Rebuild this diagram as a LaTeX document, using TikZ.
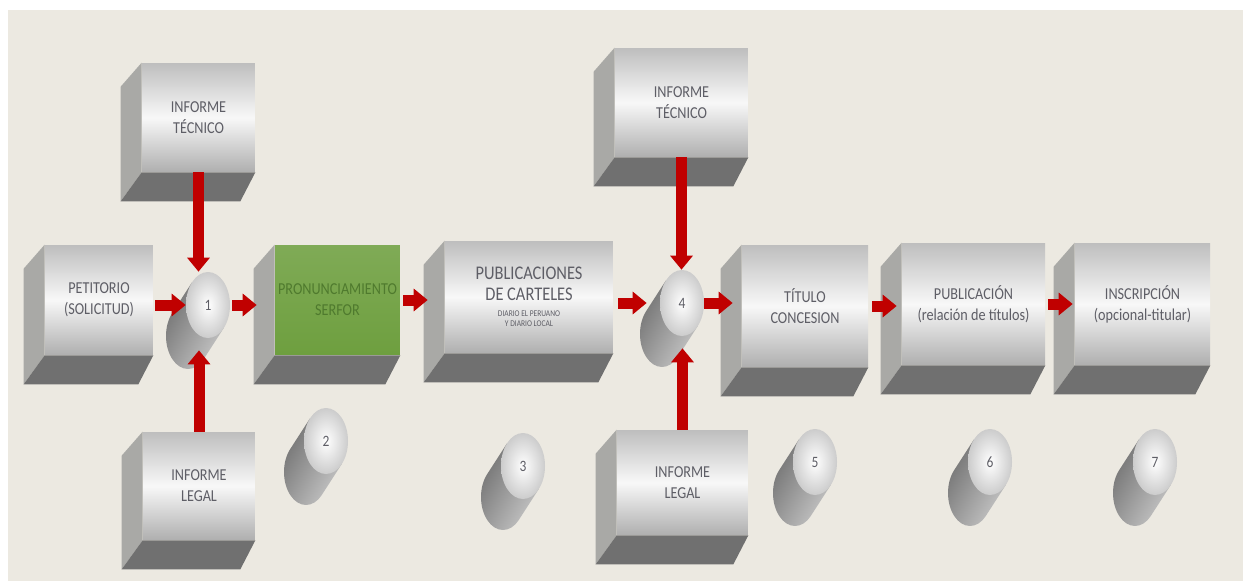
\documentclass[tikz,border=0pt]{standalone}
\usepackage{fontspec}
\setmainfont{Carlito}[FakeStretch=0.85]
\usetikzlibrary{arrows.meta,shapes.geometric,backgrounds}

\definecolor{fondo}{HTML}{ECE9E1}
\definecolor{caraclara}{HTML}{F8F8F8}
\definecolor{caragris}{HTML}{BEBEBE}
\definecolor{lateral}{HTML}{A9A9A6}
\definecolor{base}{HTML}{707070}
\definecolor{verde}{HTML}{6E9F3F}
\definecolor{textoverde}{HTML}{4F7A2E}
\definecolor{textogris}{HTML}{5E5E66}
\definecolor{rojo}{HTML}{C00000}

\newcommand{\chico}{\fontsize{5}{6}\selectfont}
\newcommand{\grande}{\fontsize{11}{13}\selectfont}

\tikzset{
  caja/.style={rectangle, inner sep=0pt, align=center, text=textogris,
    top color=caragris, bottom color=caragris!92!black, middle color=caraclara,
    font=\fontsize{9.5}{12}\selectfont},
  cajaverde/.style={caja, top color=verde!88!white, bottom color=verde,
    middle color=verde!94!white, text=textoverde},
  tapa/.style={ellipse, inner sep=0pt, minimum width=0.88cm, minimum height=1.32cm,
    inner color=white, outer color=gray!40, text=textogris,
    font=\fontsize{9}{10}\selectfont},
  flecha/.style={draw=rojo, line width=0.22cm, -{Triangle[width=0.44cm,length=0.28cm]}}
}

\begin{document}
\begin{tikzpicture}[x=0.02cm,y=-0.02cm]
        \useasboundingbox (0,0) rectangle (1243,581);
        \begin{scope}[on background layer]
            \fill[white] (0,0) rectangle (1243,581);
            \fill[fondo] (8,10) rectangle (1243,581);
        \end{scope}

        % cajas
        \node[caja, minimum width=2.26cm, minimum height=2.18cm] (tec1) at (198.5,117.5) {INFORME\\TÉCNICO};
        \node[caja, minimum width=2.16cm, minimum height=2.2cm] (pet) at (99,300) {PETITORIO\\(SOLICITUD)};
        \node[caja, minimum width=2.24cm, minimum height=2.16cm] (leg1) at (199,486) {INFORME\\LEGAL};
        \node[cajaverde, minimum width=2.5cm, minimum height=2.2cm] (pron) at (337.5,300) {PRONUNCIAMIENTO\\SERFOR};
        \node[caja, minimum width=3.36cm, minimum height=2.24cm] (pub) at (529,297)
            {\grande PUBLICACIONES\\\grande DE CARTELES\\[-3pt]\chico DIARIO EL PERUANO\\[-6pt]\chico Y DIARIO LOCAL};
        \node[caja, minimum width=2.66cm, minimum height=2.18cm] (tec2) at (681.5,102.5) {INFORME\\TÉCNICO};
        \node[caja, minimum width=2.62cm, minimum height=2.1cm] (leg2) at (682.5,482.5) {INFORME\\LEGAL};
        \node[caja, minimum width=2.52cm, minimum height=2.44cm] (tit) at (805,306) {TÍTULO\\CONCESION};
        \node[caja, minimum width=2.86cm, minimum height=2.44cm] (publ) at (973.5,304) {PUBLICACIÓN\\(relación de títulos)};
        \node[caja, minimum width=2.7cm, minimum height=2.44cm] (ins) at (1142.5,304) {INSCRIPCIÓN\\(opcional-titular)};

        \foreach \n in {tec1,pet,leg1,pron,pub,tec2,leg2,tit,publ,ins} {
            \fill[lateral] (\n.north west) -- ([shift={(-0.42cm,-0.48cm)}]\n.north west)
                -- ([shift={(-0.42cm,-0.58cm)}]\n.south west) -- (\n.south west) -- cycle;
            \fill[base] (\n.south west) -- ([shift={(-0.42cm,-0.58cm)}]\n.south west)
                -- ([shift={(-0.3cm,-0.58cm)}]\n.south east) -- (\n.south east) -- cycle;
        }

        % cilindros
        \node[tapa] (c1) at (208,305) {1};
        \node[tapa] (c2) at (326,441) {2};
        \node[tapa] (c3) at (523,466) {3};
        \node[tapa] (c4) at (682,303) {4};
        \node[tapa] (c5) at (815,462) {5};
        \node[tapa] (c6) at (990,462) {6};
        \node[tapa] (c7) at (1155,462) {7};

        \begin{scope}[on background layer]
            \foreach \i in {1,...,7}
                \shade[left color=gray!90!black, right color=gray!45!white, shading angle=60]
                    ([shift={(-0.316cm,0.459cm)}]c\i.center) -- ([shift={(-0.716cm,-0.161cm)}]c\i.center)
                    -- ([shift={(-0.084cm,-1.079cm)}]c\i.center) -- ([shift={(0.316cm,-0.459cm)}]c\i.center) -- cycle
                    ([shift={(-0.4cm,-0.62cm)}]c\i.center) ellipse [x radius=0.44cm, y radius=0.66cm];
        \end{scope}

        % flechas
        \draw[flecha, shorten <=0.04cm] (pet.east |- c1) -- (c1.west);
        \draw[flecha, shorten <=0.04cm, shorten >=0.36cm] (c1.east) -- (c1 -| pron.west);
        \draw[flecha, shorten <=0.06cm, shorten >=0.34cm] (pron.east) -- (pron.east -| pub.west);
        \draw[flecha, shorten <=0.1cm, shorten >=0.26cm] (pub.east |- c4) -- (c4.west);
        \draw[flecha, shorten >=0.18cm] (c4.east) -- (c4 -| tit.west);
        \draw[flecha, shorten <=0.08cm, shorten >=0.1cm] (tit.east) -- (tit.east -| publ.west);
        \draw[flecha, shorten <=0.06cm, shorten >=0.04cm] (publ.east) -- (publ.east -| ins.west);
        \draw[flecha] (tec1.south) -- (tec1.south |- c1.north);
        \draw[flecha, shorten >=0.24cm] (leg1.north) -- (leg1.north |- c1.south);
        \draw[flecha] (tec2.south) -- (tec2.south |- c4.north);
        \draw[flecha, shorten >=0.24cm] (leg2.north) -- (leg2.north |- c4.south);
\end{tikzpicture}
\end{document}
